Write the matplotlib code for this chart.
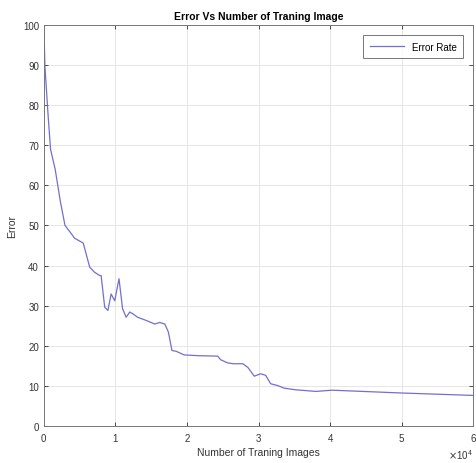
import matplotlib
matplotlib.use("Agg")
import matplotlib.pyplot as plt
from matplotlib import ticker

plt.rcParams['font.family'] = ['Liberation Sans', 'DejaVu Sans']

# number of training images and error (%)
n_images = [0, 140, 530, 930, 1580, 2300, 2950, 3850, 4300, 5500, 6400, 7100, 7800, 8000,
            8500, 8950, 9400, 9900, 10500, 11000, 11500, 12000, 12400, 13100, 14300,
            15500, 16200, 16900, 17400, 17900, 18500, 19600, 21700, 24300, 24700,
            25700, 26500, 27800, 28500, 29400, 30300, 31000, 31700, 32600, 33600,
            35200, 38000, 40300, 44500, 50000, 60000]
error_rate = [100, 89.9, 79, 69, 64, 56, 50, 47.9, 46.8, 45.6, 39.6, 38.3, 37.5, 37.5,
              29.6, 28.8, 32.9, 31.2, 36.7, 29.2, 27.1, 28.4, 28.0, 27.1, 26.3,
              25.4, 25.8, 25.4, 23.4, 18.8, 18.6, 17.7, 17.5, 17.4, 16.5,
              15.7, 15.5, 15.5, 14.6, 12.4, 13.0, 12.6, 10.5, 10.1, 9.4,
              9.0, 8.6, 8.9, 8.6, 8.2, 7.6]

fig = plt.figure(figsize=(4.77, 4.64), dpi=100)
ax = fig.add_axes([0.092, 0.080, 0.900, 0.864])

ax.plot(n_images, error_rate, color='#7070d0', linewidth=0.9, label='Error Rate')

ax.set_xlim(0, 60000)
ax.set_ylim(0, 100)
ax.set_yticks(range(0, 101, 10))
ax.set_xticks(range(0, 60001, 10000))
fmt = ticker.ScalarFormatter(useMathText=True)
fmt.set_powerlimits((0, 0))
ax.xaxis.set_major_formatter(fmt)
ax.xaxis.get_offset_text().set_fontsize(7)
ax.xaxis.get_offset_text().set_color('#333333')

ax.grid(True, color='#e6e6e6', linewidth=0.7)
ax.set_axisbelow(True)
ax.tick_params(direction='in', top=True, right=True, labelsize=7, colors='#333333',
               length=3, width=0.6)
for s in ax.spines.values():
    s.set_color('#777777')
    s.set_linewidth(0.7)

ax.set_title('Error Vs Number of Traning Image', fontsize=7.5, fontweight='bold', pad=4)
ax.set_xlabel('Number of Traning Images', fontsize=7.5, color='#333333', labelpad=3)
ax.set_ylabel('Error', fontsize=7.5, color='#333333', labelpad=4)

leg = ax.legend(loc='upper right', fontsize=7, frameon=True, fancybox=False,
                edgecolor='#555555', handlelength=3.5, borderpad=0.7,
                borderaxespad=1.0)
leg.get_frame().set_linewidth(0.7)

fig.savefig('out.png', dpi=100)
